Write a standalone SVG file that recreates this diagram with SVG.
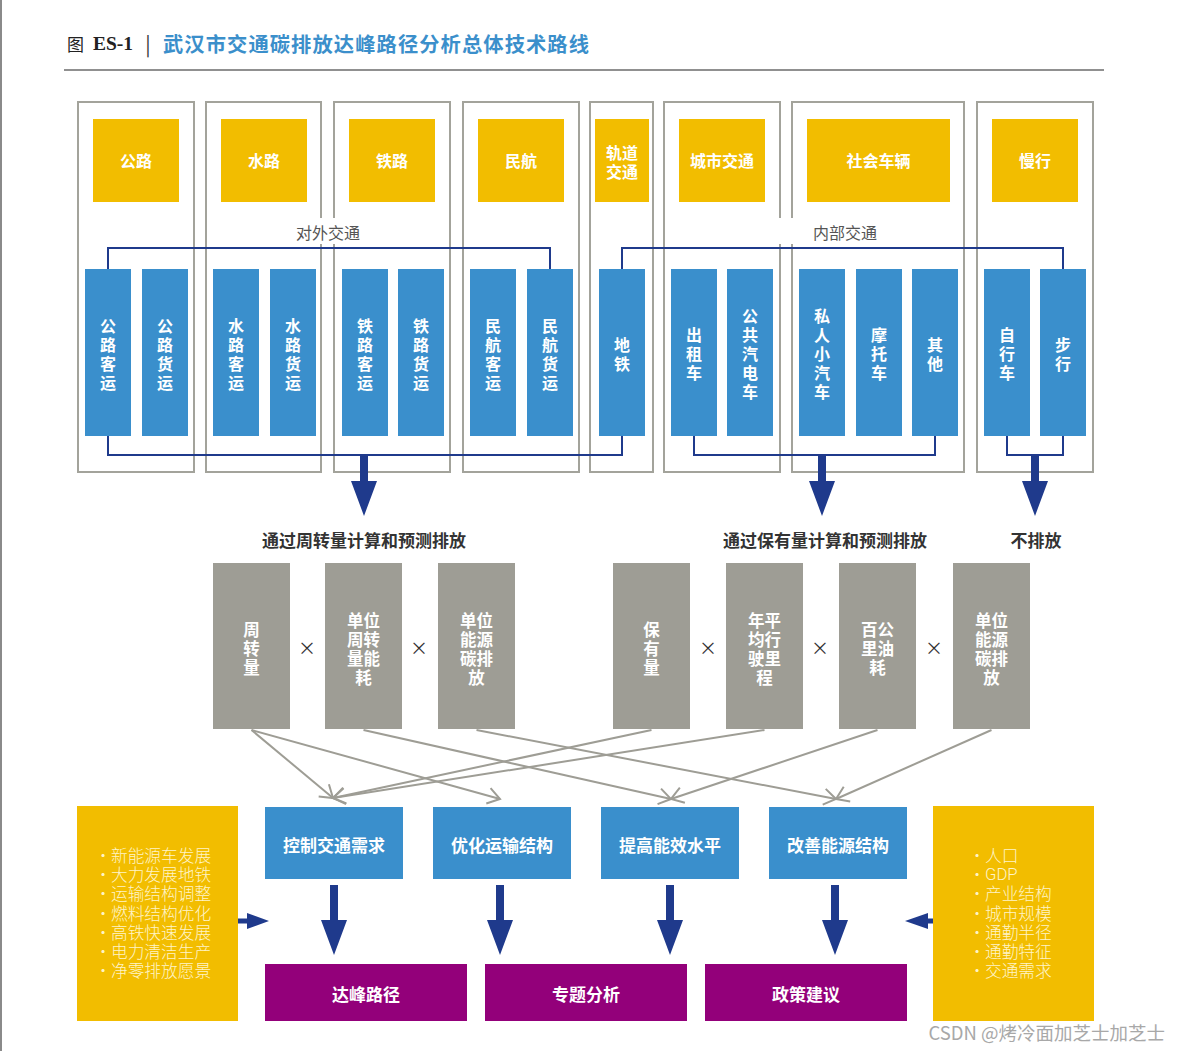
<svg xmlns="http://www.w3.org/2000/svg" width="1181" height="1051" viewBox="0 0 1181 1051">
<defs>
<style>
text{font-family:"Noto Sans CJK SC","Noto Sans",sans-serif;}
.col{fill:none;stroke:#A3A39B;stroke-width:2;}
.yb{fill:#F2BD00;}
.bb{fill:#3A8FCC;}
.gb{fill:#9E9D95;}
.pb{fill:#93007A;}
.wt{fill:#fff;font-size:16px;font-weight:bold;text-anchor:middle;dominant-baseline:central;}
.gt{fill:#fff;font-size:16.5px;font-weight:bold;text-anchor:middle;dominant-baseline:central;}
.bt{fill:#fff;font-size:17px;font-weight:bold;text-anchor:middle;dominant-baseline:central;}
.lt{fill:#FFF4C8;font-size:16.7px;font-weight:300;dominant-baseline:central;}
.hd{fill:#333;font-size:17px;font-weight:bold;text-anchor:middle;dominant-baseline:central;}
.grp{fill:#555;font-size:16px;text-anchor:middle;dominant-baseline:central;}
.nv{fill:none;stroke:#1F3A8C;stroke-width:2;}
.na{fill:#1F3A8C;}
.gl{fill:none;stroke:#9E9D95;stroke-width:2;marker-end:url(#va);}
.x{fill:#333;font-size:18px;text-anchor:middle;dominant-baseline:central;}
</style>
<marker id="va" markerUnits="userSpaceOnUse" markerWidth="30" markerHeight="30" viewBox="-15 -15 30 30" refX="0" refY="0" orient="auto">
<path d="M-12,-8 L0,0 L-12,8" fill="none" stroke="#9E9D95" stroke-width="2"/>
</marker>
</defs>
<rect x="0" y="0" width="1181" height="1051" fill="#fff"/>
<line x1="1" y1="0" x2="1" y2="1051" stroke="#8a8a8a" stroke-width="2"/>

<g id="title">
<text x="67" y="43" style="font-family:'Noto Sans CJK SC',serif;font-size:17px;fill:#222;dominant-baseline:central;">图</text>
<text x="93" y="43" style="font-family:'Liberation Serif',serif;font-size:19.5px;font-weight:bold;fill:#222;dominant-baseline:central;">ES-1</text>
<text x="148" y="43" style="font-size:20px;fill:#333;text-anchor:middle;dominant-baseline:central;">|</text>
<text x="163" y="43" style="font-size:20.3px;font-weight:bold;fill:#3B8FCB;dominant-baseline:central;" textLength="426" lengthAdjust="spacing">武汉市交通碳排放达峰路径分析总体技术路线</text>
<line x1="64" y1="70" x2="1104" y2="70" stroke="#222" stroke-width="1.2"/>
</g>

<g id="columns">
<rect class="col" x="78" y="102" width="116" height="370"/>
<rect class="col" x="206" y="102" width="115" height="370"/>
<rect class="col" x="334" y="102" width="116" height="370"/>
<rect class="col" x="463" y="102" width="116" height="370"/>
<rect class="col" x="590" y="102" width="63" height="370"/>
<rect class="col" x="664" y="102" width="116" height="370"/>
<rect class="col" x="792" y="102" width="172" height="370"/>
<rect class="col" x="977" y="102" width="116" height="370"/>
</g>

<g id="group-labels">
<rect x="288" y="218" width="80" height="26" fill="#fff"/>
<text class="grp" x="328" y="232">对外交通</text>
<rect x="776" y="218" width="106" height="26" fill="#fff"/>
<text class="grp" x="845" y="232">内部交通</text>
</g>

<g id="modes">
<g id="m-gonglu"><rect class="yb" x="93" y="119" width="86" height="83"/><text class="wt" x="136" y="160">公路</text></g>
<g id="m-shuilu"><rect class="yb" x="221" y="119" width="86" height="83"/><text class="wt" x="264" y="160">水路</text></g>
<g id="m-tielu"><rect class="yb" x="349" y="119" width="86" height="83"/><text class="wt" x="392" y="160">铁路</text></g>
<g id="m-minhang"><rect class="yb" x="478" y="119" width="86" height="83"/><text class="wt" x="521" y="160">民航</text></g>
<g id="m-guidao"><rect class="yb" x="595" y="119" width="54" height="83"/><text class="wt" x="622" y="151.5">轨道</text><text class="wt" x="622" y="170.5">交通</text></g>
<g id="m-chengshi"><rect class="yb" x="679" y="119" width="86" height="83"/><text class="wt" x="722" y="160">城市交通</text></g>
<g id="m-shehui"><rect class="yb" x="807" y="119" width="143" height="83"/><text class="wt" x="878.5" y="160">社会车辆</text></g>
<g id="m-manxing"><rect class="yb" x="992" y="119" width="86" height="83"/><text class="wt" x="1035" y="160">慢行</text></g>
</g>

<g id="submodes">
<g id="s1"><rect class="bb" x="85" y="269" width="46" height="167"/><text class="wt"><tspan x="108" y="324.5">公</tspan><tspan x="108" y="343.5">路</tspan><tspan x="108" y="362.5">客</tspan><tspan x="108" y="381.5">运</tspan></text></g>
<g id="s2"><rect class="bb" x="142" y="269" width="46" height="167"/><text class="wt"><tspan x="165" y="324.5">公</tspan><tspan x="165" y="343.5">路</tspan><tspan x="165" y="362.5">货</tspan><tspan x="165" y="381.5">运</tspan></text></g>
<g id="s3"><rect class="bb" x="213" y="269" width="46" height="167"/><text class="wt"><tspan x="236" y="324.5">水</tspan><tspan x="236" y="343.5">路</tspan><tspan x="236" y="362.5">客</tspan><tspan x="236" y="381.5">运</tspan></text></g>
<g id="s4"><rect class="bb" x="270" y="269" width="46" height="167"/><text class="wt"><tspan x="293" y="324.5">水</tspan><tspan x="293" y="343.5">路</tspan><tspan x="293" y="362.5">货</tspan><tspan x="293" y="381.5">运</tspan></text></g>
<g id="s5"><rect class="bb" x="342" y="269" width="46" height="167"/><text class="wt"><tspan x="365" y="324.5">铁</tspan><tspan x="365" y="343.5">路</tspan><tspan x="365" y="362.5">客</tspan><tspan x="365" y="381.5">运</tspan></text></g>
<g id="s6"><rect class="bb" x="398" y="269" width="46" height="167"/><text class="wt"><tspan x="421" y="324.5">铁</tspan><tspan x="421" y="343.5">路</tspan><tspan x="421" y="362.5">货</tspan><tspan x="421" y="381.5">运</tspan></text></g>
<g id="s7"><rect class="bb" x="470" y="269" width="46" height="167"/><text class="wt"><tspan x="493" y="324.5">民</tspan><tspan x="493" y="343.5">航</tspan><tspan x="493" y="362.5">客</tspan><tspan x="493" y="381.5">运</tspan></text></g>
<g id="s8"><rect class="bb" x="527" y="269" width="46" height="167"/><text class="wt"><tspan x="550" y="324.5">民</tspan><tspan x="550" y="343.5">航</tspan><tspan x="550" y="362.5">货</tspan><tspan x="550" y="381.5">运</tspan></text></g>
<g id="s9"><rect class="bb" x="599" y="269" width="46" height="167"/><text class="wt"><tspan x="622" y="343.5">地</tspan><tspan x="622" y="362.5">铁</tspan></text></g>
<g id="s10"><rect class="bb" x="671" y="269" width="46" height="167"/><text class="wt"><tspan x="694" y="334">出</tspan><tspan x="694" y="353">租</tspan><tspan x="694" y="372">车</tspan></text></g>
<g id="s11"><rect class="bb" x="727" y="269" width="46" height="167"/><text class="wt"><tspan x="750" y="315">公</tspan><tspan x="750" y="334">共</tspan><tspan x="750" y="353">汽</tspan><tspan x="750" y="372">电</tspan><tspan x="750" y="391">车</tspan></text></g>
<g id="s12"><rect class="bb" x="799" y="269" width="46" height="167"/><text class="wt"><tspan x="822" y="315">私</tspan><tspan x="822" y="334">人</tspan><tspan x="822" y="353">小</tspan><tspan x="822" y="372">汽</tspan><tspan x="822" y="391">车</tspan></text></g>
<g id="s13"><rect class="bb" x="856" y="269" width="46" height="167"/><text class="wt"><tspan x="879" y="334">摩</tspan><tspan x="879" y="353">托</tspan><tspan x="879" y="372">车</tspan></text></g>
<g id="s14"><rect class="bb" x="912" y="269" width="46" height="167"/><text class="wt"><tspan x="935" y="343.5">其</tspan><tspan x="935" y="362.5">他</tspan></text></g>
<g id="s15"><rect class="bb" x="984" y="269" width="46" height="167"/><text class="wt"><tspan x="1007" y="334">自</tspan><tspan x="1007" y="353">行</tspan><tspan x="1007" y="372">车</tspan></text></g>
<g id="s16"><rect class="bb" x="1040" y="269" width="46" height="167"/><text class="wt"><tspan x="1063" y="343.5">步</tspan><tspan x="1063" y="362.5">行</tspan></text></g>
</g>

<g id="connectors">
<path class="nv" d="M108,269 V248 H550 V269"/>
<path class="nv" d="M108,436 V455 H622 V436"/>
<path class="nv" d="M622,269 V248 H1063 V269"/>
<path class="nv" d="M694,436 V455 H935 V436"/>
<path class="nv" d="M1007,436 V455 H1063 V436"/>
<path class="na" d="M360,455 H368 V481 H377 L364,516 L351,481 H360 Z"/>
<path class="na" d="M818,455 H826 V481 H835 L822,516 L809,481 H818 Z"/>
<path class="na" d="M1031,455 H1039 V481 H1048 L1035,516 L1022,481 H1031 Z"/>
<path class="gl" d="M251.5,730 L333,798"/>
<path class="gl" d="M251.5,730 L500,799"/>
<path class="gl" d="M363.5,730 L671,799"/>
<path class="gl" d="M476.5,730 L836,799"/>
<path class="gl" d="M651.5,730 L333,798"/>
<path class="gl" d="M764.5,730 L333,798"/>
<path class="gl" d="M877.5,730 L671,799"/>
<path class="gl" d="M991.5,730 L836,799"/>
<path class="na" d="M330,885 H338 V920 H347 L334,955 L321,920 H330 Z"/>
<path class="na" d="M496,885 H504 V920 H513 L500,955 L487,920 H496 Z"/>
<path class="na" d="M666,885 H674 V920 H683 L670,955 L657,920 H666 Z"/>
<path class="na" d="M831,885 H839 V920 H848 L835,955 L822,920 H831 Z"/>
<path class="na" d="M226,918.5 H247 V913 L269,921 L247,929 V923.5 H226 Z"/>
<path class="na" d="M948,918.5 H928 V913 L905,921 L928,929 V923.5 H948 Z"/>
</g>

<g id="method-labels">
<text class="hd" x="364" y="539">通过周转量计算和预测排放</text>
<text class="hd" x="825" y="539">通过保有量计算和预测排放</text>
<text class="hd" x="1036" y="539">不排放</text>
</g>

<g id="factors">
<g id="f1"><rect class="gb" x="213" y="563" width="77" height="166"/><text class="gt"><tspan x="251.5" y="629">周</tspan><tspan x="251.5" y="648">转</tspan><tspan x="251.5" y="667">量</tspan></text></g>
<text class="x" x="307" y="647">×</text>
<g id="f2"><rect class="gb" x="325" y="563" width="77" height="166"/><text class="gt"><tspan x="363.5" y="619.5">单位</tspan><tspan x="363.5" y="638.5">周转</tspan><tspan x="363.5" y="657.5">量能</tspan><tspan x="363.5" y="676.5">耗</tspan></text></g>
<text class="x" x="419" y="647">×</text>
<g id="f3"><rect class="gb" x="438" y="563" width="77" height="166"/><text class="gt"><tspan x="476.5" y="619.5">单位</tspan><tspan x="476.5" y="638.5">能源</tspan><tspan x="476.5" y="657.5">碳排</tspan><tspan x="476.5" y="676.5">放</tspan></text></g>
<g id="f4"><rect class="gb" x="613" y="563" width="77" height="166"/><text class="gt"><tspan x="651.5" y="629">保</tspan><tspan x="651.5" y="648">有</tspan><tspan x="651.5" y="667">量</tspan></text></g>
<text class="x" x="708" y="647">×</text>
<g id="f5"><rect class="gb" x="726" y="563" width="77" height="166"/><text class="gt"><tspan x="764.5" y="619.5">年平</tspan><tspan x="764.5" y="638.5">均行</tspan><tspan x="764.5" y="657.5">驶里</tspan><tspan x="764.5" y="676.5">程</tspan></text></g>
<text class="x" x="820" y="647">×</text>
<g id="f6"><rect class="gb" x="839" y="563" width="77" height="166"/><text class="gt"><tspan x="877.5" y="629">百公</tspan><tspan x="877.5" y="648">里油</tspan><tspan x="877.5" y="667">耗</tspan></text></g>
<text class="x" x="934" y="647">×</text>
<g id="f7"><rect class="gb" x="953" y="563" width="77" height="166"/><text class="gt"><tspan x="991.5" y="619.5">单位</tspan><tspan x="991.5" y="638.5">能源</tspan><tspan x="991.5" y="657.5">碳排</tspan><tspan x="991.5" y="676.5">放</tspan></text></g>
</g>

<g id="measures">
<g id="t1"><rect class="bb" x="265" y="807" width="138" height="72"/><text class="bt" x="334" y="844">控制交通需求</text></g>
<g id="t2"><rect class="bb" x="433" y="807" width="138" height="72"/><text class="bt" x="502" y="844">优化运输结构</text></g>
<g id="t3"><rect class="bb" x="601" y="807" width="138" height="72"/><text class="bt" x="670" y="844">提高能效水平</text></g>
<g id="t4"><rect class="bb" x="769" y="807" width="138" height="72"/><text class="bt" x="838" y="844">改善能源结构</text></g>
</g>

<g id="outputs">
<g id="o1"><rect class="pb" x="265" y="964" width="202" height="57"/><text class="bt" x="366" y="993">达峰路径</text></g>
<g id="o2"><rect class="pb" x="485" y="964" width="202" height="57"/><text class="bt" x="586" y="993">专题分析</text></g>
<g id="o3"><rect class="pb" x="705" y="964" width="202" height="57"/><text class="bt" x="806" y="993">政策建议</text></g>
</g>

<g id="left-factors">
<rect class="yb" x="77" y="806" width="161" height="215"/>
<text class="lt" style="text-anchor:middle"><tspan x="103" y="855">·</tspan><tspan x="103" y="874">·</tspan><tspan x="103" y="893">·</tspan><tspan x="103" y="913">·</tspan><tspan x="103" y="932">·</tspan><tspan x="103" y="951">·</tspan><tspan x="103" y="970">·</tspan></text>
<text class="lt"><tspan x="111" y="855">新能源车发展</tspan><tspan x="111" y="874">大力发展地铁</tspan><tspan x="111" y="893">运输结构调整</tspan><tspan x="111" y="913">燃料结构优化</tspan><tspan x="111" y="932">高铁快速发展</tspan><tspan x="111" y="951">电力清洁生产</tspan><tspan x="111" y="970">净零排放愿景</tspan></text>
</g>

<g id="right-factors">
<rect class="yb" x="933" y="806" width="161" height="215"/>
<text class="lt" style="text-anchor:middle"><tspan x="977" y="855">·</tspan><tspan x="977" y="874">·</tspan><tspan x="977" y="893">·</tspan><tspan x="977" y="913">·</tspan><tspan x="977" y="932">·</tspan><tspan x="977" y="951">·</tspan><tspan x="977" y="970">·</tspan></text>
<text class="lt"><tspan x="985" y="855">人口</tspan><tspan x="985" y="874" style="font-family:'Roboto','Noto Sans',sans-serif;font-weight:300">GDP</tspan><tspan x="985" y="893">产业结构</tspan><tspan x="985" y="913">城市规模</tspan><tspan x="985" y="932">通勤半径</tspan><tspan x="985" y="951">通勤特征</tspan><tspan x="985" y="970">交通需求</tspan></text>
</g>

<text x="1165" y="1032" style="fill:#a8a8a8;font-size:18.5px;text-anchor:end;dominant-baseline:central;">CSDN @烤冷面加芝士加芝士</text>
</svg>
